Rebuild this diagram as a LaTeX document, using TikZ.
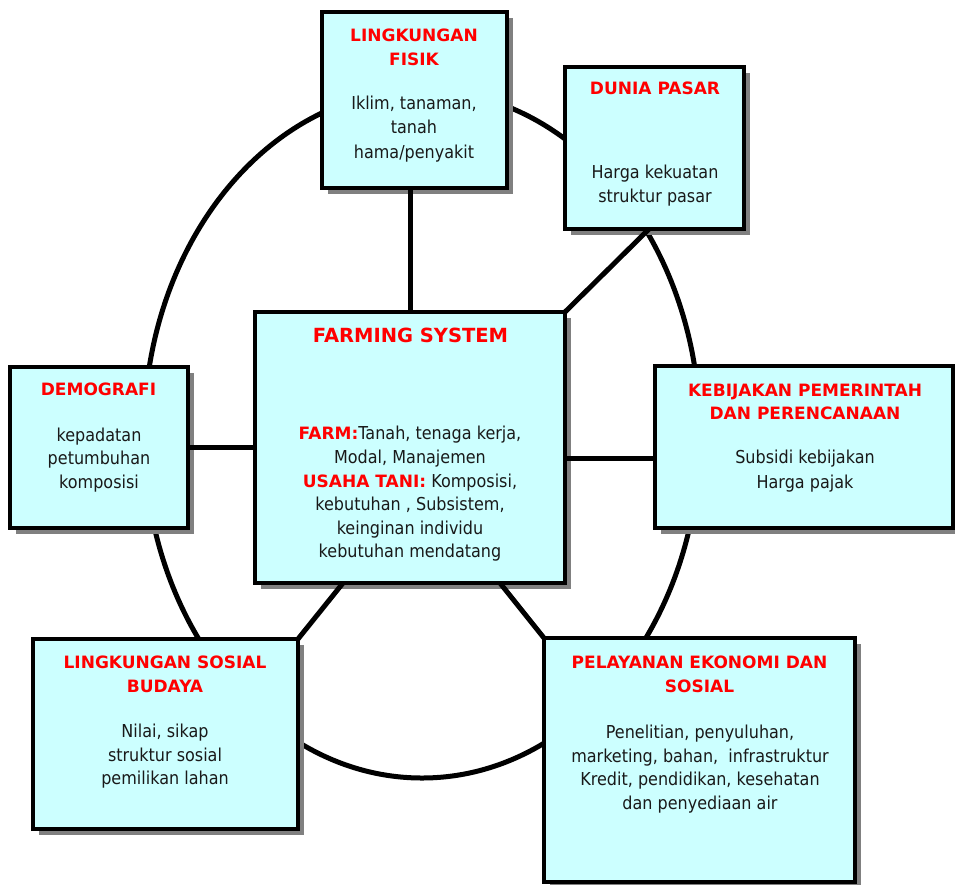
\documentclass[tikz,border=0pt]{standalone}
\usepackage{fontspec}
\setmainfont{DejaVu Sans}
\newfontfamily\bodyfont{DejaVu Sans}[FakeStretch=0.9]
\usetikzlibrary{shadows}
\definecolor{boxfill}{HTML}{CCFFFF}
\definecolor{titlered}{HTML}{FF0000}
\definecolor{shadowgray}{HTML}{808080}
\tikzset{
  card/.style={draw=black, line width=4pt, fill=boxfill, rectangle, outer sep=0pt, inner sep=0pt,
    drop shadow={shadow xshift=6pt, shadow yshift=-6pt, fill=shadowgray, opacity=1}},
  ttl/.style={text=titlered, align=center, font=\fontsize{17}{24}\selectfont\bfseries, inner sep=0pt},
  bigttl/.style={text=titlered, align=center, font=\fontsize{19.5}{24}\selectfont\bfseries, inner sep=0pt},
  body/.style={text=black!90, align=center, font=\bodyfont\fontsize{17.8}{24.5}\selectfont, inner sep=0pt},
  link/.style={line width=5pt, black},
  ring/.style={line width=5pt, black}
}
\newcommand{\rt}[1]{{\normalfont\fontsize{17}{23.6}\selectfont\bfseries\color{titlered}#1}}
\begin{document}
\begin{tikzpicture}[x=1pt, y=-1pt]
\useasboundingbox (0,0) rectangle (955,884);
% ring
\draw[ring] (422,434) ellipse [x radius=278pt, y radius=344pt];
% boxes
\node[card, minimum width=185pt, minimum height=176pt] (fisik) at (414.5,100) {};
\node[card, minimum width=179pt, minimum height=162pt] (pasar) at (654.5,148) {};
\node[card, minimum width=310pt, minimum height=271pt] (farm) at (410,447.5) {};
\node[card, minimum width=178pt, minimum height=161pt] (demo) at (99,447.5) {};
\node[card, minimum width=298pt, minimum height=162pt] (keb) at (804,447) {};
\node[card, minimum width=265pt, minimum height=190pt] (lsb) at (165.5,734) {};
\node[card, minimum width=311pt, minimum height=244pt] (pel) at (699.5,760) {};
% connectors
\draw[link] (fisik.south -| 410,0) -- (farm.north -| 410,0);
\draw[link] (pasar.south -| 649,0) -- (farm.north east);
\draw[link] (demo.east |- 0,447) -- (farm.west |- 0,447);
\draw[link] (farm.east |- 0,458) -- (keb.west |- 0,458);
\draw[link] (farm.south -| 343,0) -- (lsb.north east);
\draw[link] (farm.south -| 500,0) -- (pel.north west);
% texts
\node[ttl] (fisikT) at (414,47) {LINGKUNGAN\\FISIK};
\node[body] (fisikB) at (414,129) {Iklim, tanaman,\\tanah\\hama/penyakit};
\node[ttl] (pasarT) at (655,88) {DUNIA PASAR};
\node[body] (pasarB) at (655,185.5) {Harga kekuatan\\struktur pasar};
\node[bigttl] (farmT) at (410.5,335) {FARMING SYSTEM};
\node[body, font=\bodyfont\fontsize{17.8}{23.6}\selectfont] (farmB) at (410,494)
  {\rt{FARM:}Tanah, tenaga kerja,\\Modal, Manajemen\\\rt{USAHA TANI:} Komposisi,\\kebutuhan , Subsistem,\\keinginan individu\\kebutuhan mendatang};
\node[ttl] (demoT) at (98.5,389) {DEMOGRAFI};
\node[body, font=\bodyfont\fontsize{17.8}{23.5}\selectfont] (demoB) at (99,460) {kepadatan\\petumbuhan\\komposisi};
\node[ttl, font=\fontsize{17}{23}\selectfont\bfseries] (kebT) at (805,401.5) {KEBIJAKAN PEMERINTAH\\DAN PERENCANAAN};
\node[body, font=\bodyfont\fontsize{17.8}{25}\selectfont] (kebB) at (805,471.5) {Subsidi kebijakan\\Harga pajak};
\node[ttl] (lsbT) at (165,674) {LINGKUNGAN SOSIAL\\BUDAYA};
\node[body, font=\bodyfont\fontsize{17.8}{23.5}\selectfont] (lsbB) at (165,756.5) {Nilai, sikap\\struktur sosial\\pemilikan lahan};
\node[ttl] (pelT) at (699.5,674.5) {PELAYANAN EKONOMI DAN\\SOSIAL};
\node[body, font=\bodyfont\fontsize{17.8}{23.7}\selectfont] (pelB) at (700,769) {Penelitian, penyuluhan,\\marketing, bahan,\ \ infrastruktur\\Kredit, pendidikan, kesehatan\\dan penyediaan air};
\end{tikzpicture}
\end{document}
